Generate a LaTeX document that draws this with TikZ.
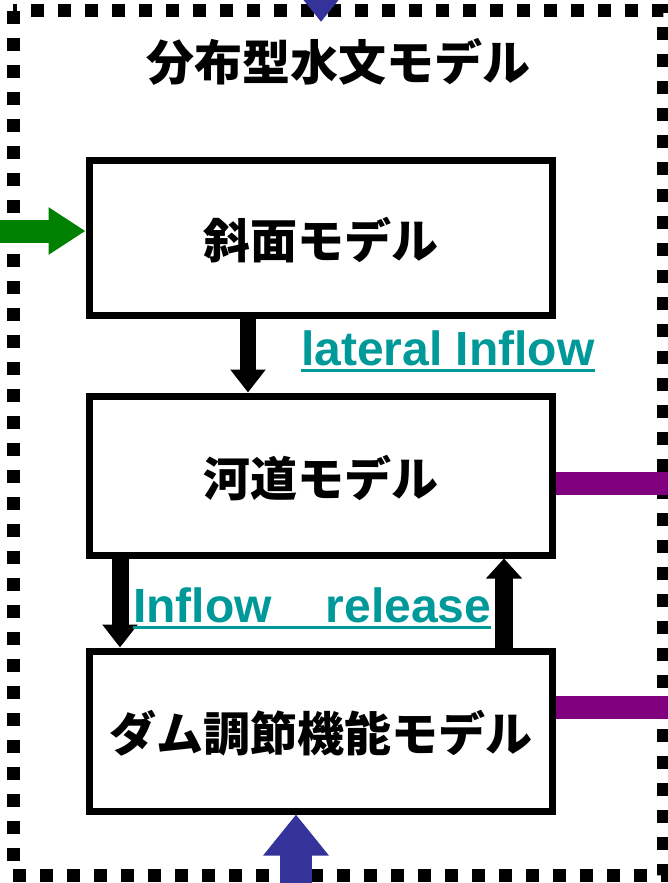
\documentclass[tikz,border=0pt]{standalone}
\usepackage{fontspec}
\setmainfont{Liberation Sans}
\newfontfamily\jpfont{Noto Sans CJK JP}
\usetikzlibrary{arrows.meta}
\definecolor{labelteal}{HTML}{009999}
\definecolor{raingreen}{HTML}{008000}
\definecolor{damblue}{HTML}{333399}
\definecolor{outpurple}{HTML}{800080}
\newcommand\ulabel[1]{\setbox0=\hbox{#1}\rlap{\copy0}\rule[-7pt]{\wd0}{3pt}}
\tikzset{bigarrow/.style n args={3}{line width=#1, -{Triangle[width=#2, length=#3]}}}

\begin{document}
\begin{tikzpicture}[x=1pt, y=-1pt,
    model/.style={draw, line width=7pt, minimum width=463pt, inner sep=0pt, text depth=0pt, font=\jpfont\bfseries\fontsize{47}{50}\selectfont},
    flowlabel/.style={anchor=base west, inner sep=0pt, text=labelteal, font=\bfseries\fontsize{48}{52}\selectfont}]
  \useasboundingbox (0,0) rectangle (668,883);
  \draw[line width=13pt, dash pattern=on 13pt off 14pt](13,11) rectangle (663,875);
  \node[font=\jpfont\bfseries\fontsize{48}{50}\selectfont] (title) at (338,62) {分布型水文モデル};
  \node[model, minimum height=155pt] (slope) at (320.5,237.5) {斜面モデル};
  \node[model, minimum height=159pt] (river) at (320.5,475.5) {河道モデル};
  \node[model, minimum height=160pt] (dam) at (320.5,731) {ダム調節機能モデル};
  \coordinate (rain) at (0,231);
  \coordinate (upstream) at (321,-40);
  \coordinate (uptip) at (321,22);
  \coordinate (ground) at (296,900);
  \coordinate (riverout) at (670,483);
  \coordinate (damout) at (670,707);
  \draw[bigarrow={23pt}{45pt}{37pt}, raingreen](rain)--(rain -| slope.west);
  \draw[bigarrow={32pt}{63pt}{41pt}, damblue](upstream)--(uptip);
  \draw[bigarrow={32pt}{63pt}{41pt}, damblue](ground)--(ground |- dam.south);
  \draw[bigarrow={16pt}{34pt}{23pt}]([xshift=-72.5pt]slope.south)--([xshift=-72.5pt]river.north);
  \draw[bigarrow={17pt}{34pt}{23pt}]([xshift=-200.5pt]river.south)--([xshift=-200.5pt]dam.north);
  \draw[bigarrow={18pt}{35pt}{20pt}]([xshift=183.5pt]dam.north)--([xshift=183.5pt]river.south);
  \draw[outpurple, line width=23pt](riverout -| river.east)--(riverout);
  \draw[outpurple, line width=23pt](damout -| dam.east)--(damout);
  \node[flowlabel] (lateral) at (301,365) {\ulabel{lateral Inflow}};
  \node[flowlabel] (inrelease) at (133,622) {\ulabel{Inflow\hspace{54pt}release}};
\end{tikzpicture}
\end{document}
